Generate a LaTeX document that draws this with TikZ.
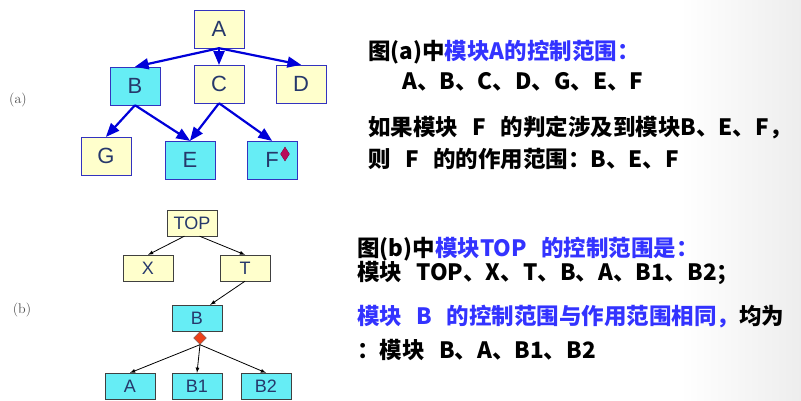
\documentclass[tikz,border=0pt]{standalone}
\usepackage{fontspec}
\usepackage{tikz}
\usetikzlibrary{arrows}
\usetikzlibrary{shapes.geometric}
\newfontfamily\cjk{Noto Sans CJK SC}[WordSpace=2.8]
\newfontfamily\boxfont{Liberation Sans}
\definecolor{pale}{rgb}{1,1,0.8}
\definecolor{aqua}{rgb}{0.4,0.93,0.96}
\definecolor{navy}{rgb}{0.2,0.2,0.75}
\definecolor{ink}{rgb}{0.15,0.22,0.42}
\definecolor{hint}{rgb}{0.2,0.2,1}
\definecolor{plum}{rgb}{0.72,0.05,0.35}
\definecolor{flame}{rgb}{0.93,0.25,0.1}

\begin{document}
\begin{tikzpicture}[x=1pt,y=-1pt]
\tikzstyle{module} = [draw=navy, fill=pale, minimum width=50pt, minimum height=38pt, inner sep=0pt, text=ink, font=\boxfont\fontsize{22}{22}\selectfont]
\tikzstyle{scope module} = [module, fill=aqua]
\tikzstyle{small module} = [draw=black!75, fill=pale, minimum width=50pt, minimum height=26pt, inner sep=0pt, text=ink, font=\boxfont\fontsize{18}{18}\selectfont]
\tikzstyle{small scope} = [small module, fill=aqua]
\tikzstyle{call} = [->, >=triangle 45, draw=blue!85!black, line width=2.2pt]
\tikzstyle{link} = [->, >=latex, draw=black, line width=0.8pt]
\tikzstyle{note} = [anchor=west, inner sep=0pt, font=\cjk\bfseries\fontsize{22.5}{22.5}\selectfont]

\useasboundingbox (0,0) rectangle (801,401);
\shade[left color=white, right color=gray!14] (680,0) rectangle (801,401);

% figure (a)
\node[module] (A) at (219,29) {A};
\node[scope module] (B) at (135,86) {B};
\node[module] (C) at (219,84) {C};
\node[module] (D) at (301,84) {D};
\node[module] (G) at (106,156) {G};
\node[scope module] (E) at (190,160) {E};
\node[scope module] (F) at (272,160) {F};
\node[diamond, fill=plum, draw=plum!70!black, minimum width=9pt, minimum height=14pt, inner sep=0pt] (Fdec) at (285,154) {};

\draw[call] (A.south) -- (B.north);
\draw[call] (A.south) -- (C.north);
\draw[call] (A.south) -- (D.north);
\draw[call] (B.south) -- (G.north);
\draw[call] (B.south) -- (E.north);
\draw[call] (C.south) -- (E.north);
\draw[call] (C.south) -- (F.north);

\node[text=black!70, font=\fontsize{14}{14}\selectfont] (labA) at (18,100) {(a)};

% figure (b)
\node[small module] (TOP) at (192,223) {TOP};
\node[small module] (X) at (148,268) {X};
\node[small module] (T) at (245,268) {T};
\node[small scope] (Bb) at (197,318) {B};
\node[small scope] (Ab) at (130,386) {A};
\node[small scope] (B1) at (197,386) {B1};
\node[small scope] (B2) at (266,386) {B2};
\node[diamond, fill=flame, draw=black!60, minimum width=13pt, minimum height=13pt, inner sep=0pt] (Bdec) at (200,338) {};

\draw[link] (TOP.-120) -- (X.north);
\draw[link] (TOP.-60) -- (T.north);
\draw[link] (T.south) -- (Bb.45);
\draw[link] (Bdec.south) -- (Ab.north);
\draw[link] (Bdec.south) -- (B1.north);
\draw[link] (Bdec.south) -- (B2.north);

\node[text=black!70, font=\fontsize{14}{14}\selectfont] (labB) at (22,310) {(b)};

% notes
\node[note] (na1) at (368,52) {图(a)中\textcolor{hint}{模块A的控制范围：}};
\node[note] (na2) at (402,82) {A、B、C、D、G、E、F};
\node[note] (na3) at (368,127) {如果模块 F 的判定涉及到模块B、E、F，};
\node[note] (na4) at (368,159) {则 F 的的作用范围：B、E、F};
\node[note] (nb1) at (357,249) {图(b)中\textcolor{hint}{模块TOP 的控制范围是：}};
\node[note] (nb2) at (357,273) {模块 TOP、X、T、B、A、B1、B2；};
\node[note] (nb3) at (357,317) {\textcolor{hint}{模块 B 的控制范围与作用范围相同，}均为};
\node[note] (nb4) at (357,350) {：模块 B、A、B1、B2};
\end{tikzpicture}
\end{document}
